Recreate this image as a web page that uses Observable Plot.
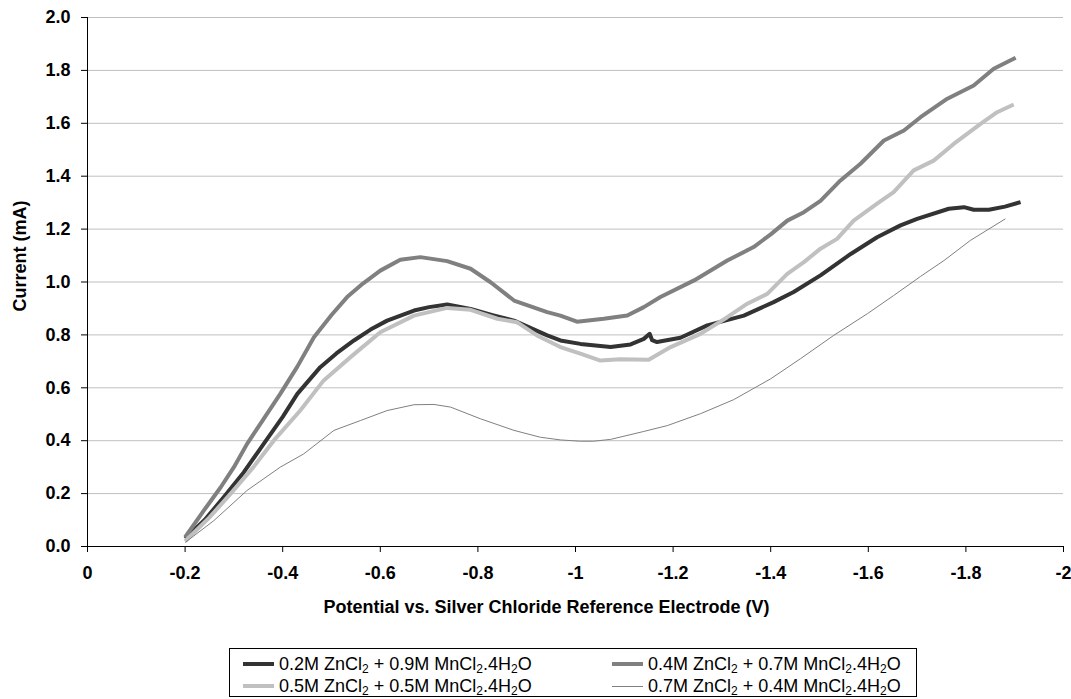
<!DOCTYPE html>
<html>
<head>
<meta charset="utf-8">
<script src="https://cdn.jsdelivr.net/npm/d3@7"></script>
<script src="https://cdn.jsdelivr.net/npm/@observablehq/plot@0.6"></script>
<style>
  html, body { margin: 0; padding: 0; background: #fff; }
  #wrap { position: relative; width: 1071px; height: 699px; font-family: "Liberation Sans", Arial, sans-serif; }
  #legend { position: absolute; left: 229px; top: 648px; width: 688px; height: 49px; border: 1px solid #000; box-sizing: border-box; background: #fff; }
  .item { position: absolute; height: 22px; }
  .sw { position: absolute; width: 31px; left: 0; }
  .lab { position: absolute; left: 36px; top: 0; white-space: nowrap; font-size: 18px; line-height: 22px; color: #000; }
  .lab sub { font-size: 12px; vertical-align: -3px; line-height: 0; }
</style>
</head>
<body>
<div id="wrap">
  <div id="chart"></div>
  <div id="legend"></div>
</div>
<script>
// ---- Data ----
const seriesNames = [
  "0.2M ZnCl<sub>2</sub> + 0.9M MnCl<sub>2</sub>.4H<sub>2</sub>O",
  "0.4M ZnCl<sub>2</sub> + 0.7M MnCl<sub>2</sub>.4H<sub>2</sub>O",
  "0.5M ZnCl<sub>2</sub> + 0.5M MnCl<sub>2</sub>.4H<sub>2</sub>O",
  "0.7M ZnCl<sub>2</sub> + 0.4M MnCl<sub>2</sub>.4H<sub>2</sub>O"
];

const potA = [-0.2, -0.24, -0.279, -0.32, -0.361, -0.40, -0.430, -0.477, -0.51, -0.546, -0.58, -0.614, -0.669, -0.70, -0.737, -0.785, -0.83, -0.874, -0.942, -0.969, -1.010, -1.072, -1.113, -1.14, -1.152, -1.157, -1.167, -1.215, -1.270, -1.345, -1.406, -1.447, -1.502, -1.564, -1.618, -1.666, -1.700, -1.765, -1.796, -1.816, -1.847, -1.88, -1.912];
const curA = [0.03, 0.10, 0.186, 0.28, 0.388, 0.49, 0.577, 0.678, 0.73, 0.779, 0.82, 0.854, 0.892, 0.905, 0.915, 0.898, 0.875, 0.854, 0.798, 0.779, 0.766, 0.754, 0.764, 0.785, 0.804, 0.78, 0.773, 0.789, 0.836, 0.873, 0.924, 0.962, 1.025, 1.106, 1.169, 1.214, 1.239, 1.277, 1.283, 1.273, 1.273, 1.285, 1.302];

const potB = [-0.2, -0.24, -0.273, -0.30, -0.327, -0.36, -0.395, -0.43, -0.464, -0.50, -0.532, -0.565, -0.600, -0.641, -0.682, -0.737, -0.785, -0.826, -0.874, -0.942, -0.969, -1.003, -1.058, -1.106, -1.14, -1.174, -1.243, -1.311, -1.365, -1.40, -1.434, -1.468, -1.502, -1.543, -1.584, -1.632, -1.673, -1.707, -1.762, -1.816, -1.857, -1.902];
const curB = [0.035, 0.14, 0.224, 0.30, 0.388, 0.48, 0.577, 0.68, 0.791, 0.875, 0.943, 0.995, 1.043, 1.084, 1.094, 1.079, 1.050, 0.999, 0.930, 0.886, 0.873, 0.850, 0.861, 0.873, 0.905, 0.943, 1.006, 1.081, 1.132, 1.18, 1.232, 1.264, 1.307, 1.384, 1.447, 1.535, 1.573, 1.623, 1.693, 1.743, 1.806, 1.848];

const potC = [-0.2, -0.25, -0.293, -0.34, -0.382, -0.436, -0.484, -0.539, -0.600, -0.669, -0.737, -0.785, -0.840, -0.880, -0.921, -0.969, -1.010, -1.051, -1.092, -1.150, -1.195, -1.256, -1.311, -1.352, -1.393, -1.434, -1.468, -1.502, -1.536, -1.570, -1.618, -1.652, -1.693, -1.734, -1.775, -1.830, -1.864, -1.898];
const curC = [0.02, 0.11, 0.199, 0.30, 0.401, 0.514, 0.628, 0.716, 0.810, 0.873, 0.902, 0.895, 0.861, 0.848, 0.798, 0.754, 0.729, 0.703, 0.708, 0.706, 0.754, 0.804, 0.867, 0.918, 0.955, 1.031, 1.075, 1.126, 1.163, 1.232, 1.296, 1.340, 1.422, 1.459, 1.522, 1.598, 1.642, 1.671];

const potD = [-0.2, -0.259, -0.327, -0.395, -0.443, -0.505, -0.559, -0.614, -0.669, -0.710, -0.744, -0.805, -0.874, -0.928, -0.969, -1.010, -1.037, -1.072, -1.140, -1.188, -1.256, -1.324, -1.400, -1.461, -1.529, -1.598, -1.652, -1.707, -1.755, -1.809, -1.881];
const curD = [0.015, 0.098, 0.212, 0.300, 0.350, 0.439, 0.476, 0.514, 0.536, 0.537, 0.527, 0.483, 0.439, 0.413, 0.403, 0.398, 0.398, 0.405, 0.435, 0.457, 0.502, 0.555, 0.634, 0.710, 0.798, 0.880, 0.949, 1.021, 1.081, 1.157, 1.239];

const xTicks = [0, -0.2, -0.4, -0.6, -0.8, -1, -1.2, -1.4, -1.6, -1.8, -2];
const xTickLabels = ["0", "-0.2", "-0.4", "-0.6", "-0.8", "-1", "-1.2", "-1.4", "-1.6", "-1.8", "-2"];
const yTicks = [0, 0.2, 0.4, 0.6, 0.8, 1.0, 1.2, 1.4, 1.6, 1.8, 2.0];
const yTickLabels = ["0.0", "0.2", "0.4", "0.6", "0.8", "1.0", "1.2", "1.4", "1.6", "1.8", "2.0"];

const xTitle = "Potential vs. Silver Chloride Reference Electrode (V)";
const yTitle = "Current (mA)";

// ---- Styles ----
const styles = [
  {color: "#333333", width: 4},
  {color: "#808080", width: 4},
  {color: "#c0c0c0", width: 4},
  {color: "#808080", width: 1}
];

const toRows = (xs, ys) => xs.map((x, i) => ({x, y: ys[i]}));
const series = [toRows(potA, curA), toRows(potB, curB), toRows(potC, curC), toRows(potD, curD)];

const font = "'Liberation Sans', Arial, sans-serif";

const chart = Plot.plot({
  width: 1071,
  height: 640,
  marginLeft: 87,
  marginRight: 8,
  marginTop: 17,
  marginBottom: 94,
  x: {domain: [0, -2]},
  y: {domain: [0, 2]},
  style: {fontFamily: font, fontSize: "18px", fontWeight: "bold", color: "#000", background: "#fff", overflow: "visible"},
  marks: [
    Plot.ruleY(yTicks.filter(d => d > 0), {stroke: "#c0c0c0", strokeWidth: 1}),
    ...series.map((rows, i) => Plot.line(rows, {x: "x", y: "y", stroke: styles[i].color, strokeWidth: styles[i].width, strokeLinejoin: "round", strokeLinecap: "butt"})),
    Plot.ruleY([0], {stroke: "#000", strokeWidth: 1}),
    Plot.ruleX([0], {stroke: "#000", strokeWidth: 1}),
    Plot.axisY({ticks: yTicks, tickFormat: d => yTickLabels[yTicks.findIndex(t => Math.abs(t - d) < 1e-9)], tickSize: 6, tickPadding: 11, label: null, fontSize: 18, fontWeight: "bold"}),
    Plot.axisX({ticks: xTicks, tickFormat: d => xTickLabels[xTicks.findIndex(t => Math.abs(t - d) < 1e-9)], tickSize: 6, tickPadding: 14, label: null, fontSize: 18, fontWeight: "bold"}),
    Plot.text([xTitle], {frameAnchor: "bottom", textAnchor: "middle", lineAnchor: "middle", dx: -29, dy: 61, fontSize: 18, fontWeight: "bold", fill: "#000"}),
    Plot.text([yTitle], {frameAnchor: "left", textAnchor: "middle", lineAnchor: "middle", rotate: -90, dx: -67, dy: -26, fontSize: 18, fontWeight: "bold", fill: "#000"})
  ]
});
document.getElementById("chart").appendChild(chart);

// ---- Legend ----
const legend = document.getElementById("legend");
const pos = [
  {left: 13, top: 4},
  {left: 382, top: 4},
  {left: 13, top: 26},
  {left: 382, top: 26}
];
seriesNames.forEach((name, i) => {
  const item = document.createElement("div");
  item.className = "item";
  item.style.left = pos[i].left + "px";
  item.style.top = pos[i].top + "px";
  const sw = document.createElement("div");
  sw.className = "sw";
  sw.style.background = styles[i].color;
  sw.style.height = styles[i].width + "px";
  sw.style.top = (11 - styles[i].width / 2) + "px";
  const lab = document.createElement("div");
  lab.className = "lab";
  lab.innerHTML = name;
  item.appendChild(sw);
  item.appendChild(lab);
  legend.appendChild(item);
});
</script>
</body>
</html>
